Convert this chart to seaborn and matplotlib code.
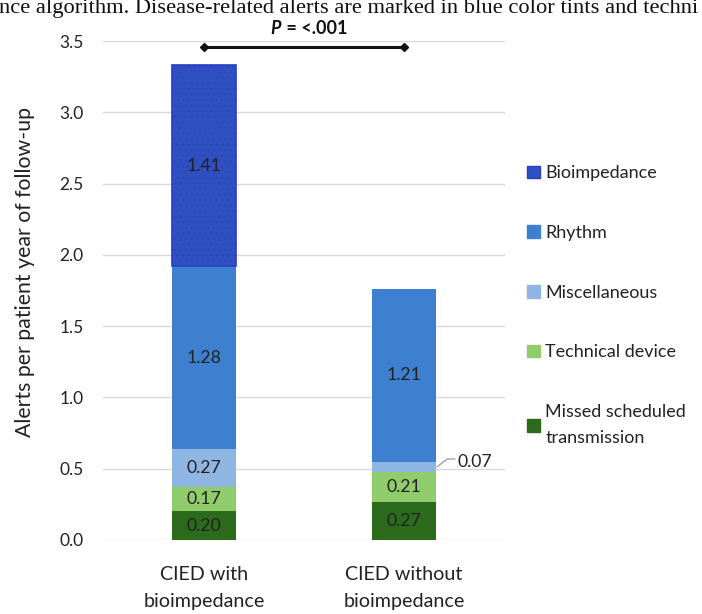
import numpy as np
import pandas as pd
import matplotlib
matplotlib.use("Agg")
import matplotlib.pyplot as plt
import seaborn as sns
from matplotlib.patches import Patch

# data
groups = ["CIED with\nbioimpedance", "CIED without\nbioimpedance"]
categories = ["Missed scheduled\ntransmission", "Technical device", "Miscellaneous", "Rhythm", "Bioimpedance"]
missed = [0.20, 0.27]
technical = [0.17, 0.21]
misc = [0.27, 0.07]
rhythm = [1.28, 1.21]
bioimp = [1.41, 0.0]
colors = ["#2c6a1c", "#90cc6c", "#8fb5e3", "#3d80d0", "#2f50bf"]
p_text = " = <.001"
caption = "nce algorithm. Disease-related alerts are marked in blue color tints and techni"

sns.set_theme(style="white")
plt.rcParams["font.family"] = ["Lato", "DejaVu Sans"]
plt.rcParams["hatch.linewidth"] = 0.25

df = pd.DataFrame({"group": groups, "Missed scheduled\ntransmission": missed,
                   "Technical device": technical, "Miscellaneous": misc,
                   "Rhythm": rhythm, "Bioimpedance": bioimp})

fig = plt.figure(figsize=(7.02, 6.14), dpi=100)
ax = fig.add_axes([103 / 702, 74 / 614, 402 / 702, 499 / 614])

bottom = np.zeros(len(groups))
for cat, col in zip(categories, colors):
    vals = df[cat].values
    keep = vals > 0
    kw = dict(edgecolor="#2a3ccc", linewidth=1.2, hatch="...") if cat == "Bioimpedance" else dict(linewidth=0)
    sns.barplot(x=df["group"][keep], y=vals[keep], bottom=bottom[keep], order=groups,
                color=col, width=0.32, saturation=1, ax=ax, zorder=3, **kw)
    for i, v in enumerate(vals):
        if v >= 0.1:
            ax.text(i, bottom[i] + v / 2, f"{v:.2f}", ha="center", va="center",
                    fontsize=12.7, color="#222222", zorder=5)
    bottom = bottom + vals

# the small Miscellaneous segment of the second bar, labelled outside
ax.plot([1.165, 1.215, 1.255], [0.512, 0.568, 0.568], color="#9a9a9a", lw=0.9, clip_on=False)
ax.text(1.27, 0.55, f"{misc[1]:.2f}", ha="left", va="center", fontsize=12.7, color="#222222")

ax.set_xlim(-0.505, 1.505)
ax.set_ylim(0, 3.5)
ax.set_yticks(np.arange(0, 3.51, 0.5))
ax.yaxis.grid(True, color="#d9d9d9", lw=1)
ax.set_axisbelow(True)
sns.despine(ax=ax, left=True, bottom=True, top=True, right=True)
ax.tick_params(axis="y", length=0, pad=14, labelsize=12.5, labelcolor="#222222")
ax.tick_params(axis="x", length=0, pad=19, labelsize=14.2, labelcolor="#222222")
for t in ax.get_xticklabels():
    t.set_linespacing(1.7)
ax.set_xlabel("")
ax.set_ylabel("")

fig.text(25 / 702, (614 - 272) / 614, "Alerts per patient year of follow-up",
         rotation=90, ha="center", va="center", fontsize=15.3, color="#222222")

# significance bracket
ax.plot([0, 1], [3.46, 3.46], color="#111111", lw=2.2, clip_on=False,
        marker="D", markersize=4, zorder=6)
ax.text(0.385, 3.59, "P", ha="right", va="center", fontsize=13, fontweight="bold",
        style="italic", color="#111111")
ax.text(0.39, 3.59, p_text, ha="left", va="center", fontsize=13, fontweight="bold",
        color="#111111")

handles = [Patch(facecolor=c, edgecolor=("#2a3ccc" if n == "Bioimpedance" else c))
           for n, c in zip(categories, colors)][::-1]
leg = fig.legend(handles, categories[::-1], loc="upper left",
                 bbox_to_anchor=(511 / 702, 1 - 149 / 614),
                 frameon=False, fontsize=13, handlelength=0.7, handleheight=0.7,
                 handletextpad=0.3, labelspacing=2.42, labelcolor="#222222")
for t in leg.get_texts():
    t.set_linespacing(1.8)

fig.text(-0.002, 1 - 13 / 614, caption, ha="left", va="baseline", fontsize=16.2,
         family="Liberation Serif", color="#111111")

fig.savefig("out.png", dpi=100)
